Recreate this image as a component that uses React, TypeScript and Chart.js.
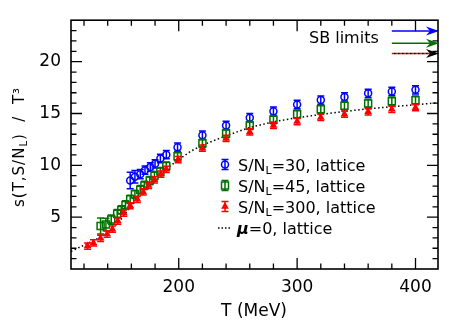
import React, { useEffect, useRef } from "react";
import { Chart, registerables } from "chart.js";
Chart.register(...registerables);

// ---------- data ----------
const blueT = [159, 163, 167.5, 171.5, 176, 180, 184.5, 189.5, 199, 220, 240, 260, 280, 300, 320, 340, 360, 380, 400];
const blueS = [8.53, 8.9, 9.15, 9.53, 9.84, 10.15, 10.66, 11.03, 11.75, 12.9, 13.85, 14.6, 15.22, 15.87, 16.3, 16.6, 16.95, 17.13, 17.28];
const blueErr = [0.8, 0.6, 0.45, 0.4, 0.4, 0.4, 0.4, 0.4, 0.4, 0.4, 0.4, 0.4, 0.4, 0.4, 0.4, 0.4, 0.4, 0.4, 0.4];

const greenT = [134, 138.5, 143, 148, 151.5, 155, 159, 163, 167.5, 171, 175.5, 179.5, 184.5, 189.5, 199, 220, 240, 260, 280, 300, 320, 340, 360, 380, 400];
const greenS = [4.15, 4.3, 4.77, 5.34, 5.7, 6.18, 6.72, 7.2, 7.65, 8.06, 8.53, 9.0, 9.4, 9.93, 10.87, 12.12, 13.06, 13.85, 14.4, 14.93, 15.4, 15.75, 15.97, 16.19, 16.28];
const greenErr = [0.78, 0.6, 0.45, 0.4, 0.4, 0.4, 0.4, 0.4, 0.4, 0.4, 0.4, 0.4, 0.4, 0.4, 0.4, 0.4, 0.4, 0.4, 0.4, 0.4, 0.4, 0.4, 0.4, 0.4, 0.4];

const redT = [123, 128, 134, 139.5, 144, 148.5, 153.5, 159, 165, 170, 174.5, 179.5, 185, 189.5, 199.5, 220, 240, 260, 280, 300, 320, 340, 360, 380, 400];
const redS = [2.21, 2.52, 2.96, 3.37, 3.84, 4.62, 5.4, 6.1, 6.72, 7.43, 8.06, 8.6, 9.16, 9.62, 10.56, 11.65, 12.59, 13.22, 13.85, 14.22, 14.62, 14.93, 15.16, 15.4, 15.56];
const redErr = [0.3, 0.3, 0.3, 0.3, 0.3, 0.3, 0.3, 0.3, 0.3, 0.3, 0.3, 0.3, 0.3, 0.3, 0.3, 0.3, 0.3, 0.3, 0.3, 0.3, 0.3, 0.3, 0.3, 0.3, 0.3];

const mu0T = [109, 120, 130, 140, 150, 160, 170, 180, 190, 200, 210, 220, 240, 260, 280, 300, 320, 340, 360, 380, 400, 419];
const mu0S = [1.7, 2.3, 2.85, 3.45, 4.6, 6.1, 7.5, 8.7, 9.7, 10.55, 11.35, 11.95, 12.85, 13.65, 14.2, 14.6, 14.9, 15.2, 15.45, 15.65, 15.85, 16.03];

const sbLimits = [22.97, 21.78, 20.79];
const sbArrowFromT = 380;

const xRange = [109, 419];
const yRange = [0, 24];
const xTickLabels = [200, 300, 400];
const yTickLabels = [5, 10, 15, 20];
const xMinorStep = 20;
const yMinorStep = 1;

const legendSeries = ["30", "45", "300"];
const legendSuffix = ", lattice";
const sbText = "SB limits";
const xTitle = "T (MeV)";

const BLUE = "#0000ff";
const GREEN = "#007000";
const RED = "#ff0000";
const FONT = "'DejaVu Sans', sans-serif";

function drawMarker(ctx: CanvasRenderingContext2D, kind: string, color: string, x: number, y: number, half: number) {
  ctx.save();
  ctx.strokeStyle = color;
  ctx.fillStyle = color;
  ctx.lineWidth = 1.5;
  ctx.beginPath();
  ctx.moveTo(x, y - half); ctx.lineTo(x, y + half);
  ctx.moveTo(x - 3.5, y - half); ctx.lineTo(x + 3.5, y - half);
  ctx.moveTo(x - 3.5, y + half); ctx.lineTo(x + 3.5, y + half);
  ctx.stroke();
  ctx.beginPath();
  if (kind === "circle") {
    ctx.arc(x, y, 3.5, 0, Math.PI * 2);
    ctx.stroke();
  } else if (kind === "rect") {
    ctx.rect(x - 3.5, y - 3.5, 7, 7);
    ctx.stroke();
  } else {
    ctx.moveTo(x, y - 4.5);
    ctx.lineTo(x + 3.9, y + 2.25);
    ctx.lineTo(x - 3.9, y + 2.25);
    ctx.closePath();
    ctx.fill();
  }
  ctx.restore();
}

function drawRich(ctx: CanvasRenderingContext2D, parts: { t: string; font: string; dy?: number }[], x: number, y: number) {
  let cx = x;
  for (const p of parts) {
    ctx.font = p.font;
    ctx.fillText(p.t, cx, y + (p.dy || 0));
    cx += ctx.measureText(p.t).width;
  }
  return cx;
}

const sciPlugin = {
  id: "sci",
  beforeDatasetDraw(chart: any, args: any) {
    const ds = chart.data.datasets[args.index];
    if (!ds.errors) return;
    const ctx = chart.ctx as CanvasRenderingContext2D;
    const xs = chart.scales.x, ys = chart.scales.y;
    ctx.save();
    ctx.strokeStyle = ds.borderColor;
    ctx.lineWidth = 1.5;
    ctx.beginPath();
    ds.data.forEach((p: any, i: number) => {
      const x = xs.getPixelForValue(p.x);
      const y1 = ys.getPixelForValue(p.y - ds.errors[i]);
      const y2 = ys.getPixelForValue(p.y + ds.errors[i]);
      ctx.moveTo(x, y1); ctx.lineTo(x, y2);
      ctx.moveTo(x - 3.5, y1); ctx.lineTo(x + 3.5, y1);
      ctx.moveTo(x - 3.5, y2); ctx.lineTo(x + 3.5, y2);
    });
    ctx.stroke();
    ctx.restore();
  },
  afterDraw(chart: any) {
    const ctx = chart.ctx as CanvasRenderingContext2D;
    const xs = chart.scales.x, ys = chart.scales.y;
    const a = chart.chartArea;
    ctx.save();
    // frame
    ctx.strokeStyle = "#000";
    ctx.lineWidth = 1.6;
    ctx.strokeRect(a.left, a.top, a.right - a.left, a.bottom - a.top);
    // ticks
    ctx.lineWidth = 1.3;
    ctx.beginPath();
    const x0 = Math.ceil(xRange[0] / xMinorStep) * xMinorStep;
    for (let v = x0; v < xRange[1]; v += xMinorStep) {
      const px = xs.getPixelForValue(v);
      const len = xTickLabels.includes(v) ? 11 : 5.5;
      ctx.moveTo(px, a.bottom); ctx.lineTo(px, a.bottom - len);
      ctx.moveTo(px, a.top); ctx.lineTo(px, a.top + len);
    }
    for (let v = yRange[0] + yMinorStep; v < yRange[1]; v += yMinorStep) {
      const py = ys.getPixelForValue(v);
      const len = v % 5 === 0 ? 11 : 5.5;
      ctx.moveTo(a.left, py); ctx.lineTo(a.left + len, py);
      ctx.moveTo(a.right, py); ctx.lineTo(a.right - len, py);
    }
    ctx.stroke();

    // SB arrows
    const sbColors = [BLUE, GREEN, RED];
    const xa = xs.getPixelForValue(sbArrowFromT);
    const xb = xs.getPixelForValue(xRange[1]);
    sbLimits.forEach((v, i) => {
      const py = ys.getPixelForValue(v);
      ctx.lineWidth = 1.5;
      if (i === 2) {
        ctx.setLineDash([2, 2]);
        ctx.strokeStyle = RED;
        ctx.beginPath(); ctx.moveTo(xa, py); ctx.lineTo(xb - 2, py); ctx.stroke();
        ctx.lineDashOffset = 2;
        ctx.strokeStyle = "#000";
        ctx.beginPath(); ctx.moveTo(xa, py); ctx.lineTo(xb - 2, py); ctx.stroke();
        ctx.setLineDash([]);
        ctx.lineDashOffset = 0;
      } else {
        ctx.strokeStyle = sbColors[i];
        ctx.beginPath(); ctx.moveTo(xa, py); ctx.lineTo(xb - 2, py); ctx.stroke();
      }
      ctx.fillStyle = i === 0 ? BLUE : i === 1 ? GREEN : "#000";
      ctx.beginPath();
      ctx.moveTo(xb + 1, py);
      ctx.lineTo(xb - 12, py - 4.5);
      ctx.lineTo(xb - 8, py);
      ctx.lineTo(xb - 12, py + 4.5);
      ctx.closePath();
      ctx.fill();
    });

    // text
    ctx.fillStyle = "#000";
    ctx.textBaseline = "alphabetic";
    ctx.textAlign = "left";
    ctx.font = `16px ${FONT}`;
    ctx.fillText(sbText, 309, 42.5);

    // legend
    const kinds = ["circle", "rect", "triangle"];
    const cols = [BLUE, GREEN, RED];
    const rowY = [164.5, 185.5, 206.5, 228];
    const mainF = `16px ${FONT}`;
    const subF = `11px ${FONT}`;
    for (let i = 0; i < 3; i++) {
      drawMarker(ctx, kinds[i], cols[i], 225, rowY[i], 5);
      ctx.fillStyle = "#000";
      drawRich(ctx, [
        { t: "S/N", font: mainF },
        { t: "L", font: subF, dy: 3 },
        { t: "=" + legendSeries[i] + legendSuffix, font: mainF },
      ], 238, rowY[i] + 6);
    }
    ctx.strokeStyle = "#000";
    ctx.lineWidth = 1.5;
    ctx.setLineDash([1.5, 2]);
    ctx.beginPath(); ctx.moveTo(218, rowY[3]); ctx.lineTo(231, rowY[3]); ctx.stroke();
    ctx.setLineDash([]);
    drawRich(ctx, [
      { t: "\u03bc", font: `bold italic 16px ${FONT}` },
      { t: "=0" + legendSuffix, font: mainF },
    ], 237, rowY[3] + 6);

    // x title
    ctx.font = `17px ${FONT}`;
    ctx.textAlign = "center";
    ctx.fillText(xTitle, 254, 316);

    // y title (rotated)
    ctx.save();
    ctx.translate(24, 207);
    ctx.rotate(-Math.PI / 2);
    ctx.textAlign = "left";
    const yf = `15px ${FONT}`;
    (ctx as any).letterSpacing = "1px";
    drawRich(ctx, [
      { t: "s(T,S/N", font: yf },
      { t: "L", font: `10px ${FONT}`, dy: 3 },
      { t: ")  /  T\u00b3", font: yf },
    ], 0, 0);
    ctx.restore();
    ctx.restore();
  },
};

export default function App() {
  const ref = useRef<HTMLCanvasElement>(null);
  useEffect(() => {
    const canvas = ref.current!;
    const pts = (xs: number[], ys: number[]) => xs.map((x, i) => ({ x, y: ys[i] }));
    const chart = new Chart(canvas, {
      type: "scatter",
      data: {
        datasets: [
          {
            label: "mu0",
            data: pts(mu0T, mu0S),
            showLine: true,
            borderColor: "#000",
            borderWidth: 1.5,
            borderDash: [1.5, 2.5],
            pointRadius: 0,
            fill: false,
            order: 4,
          } as any,
          {
            label: "30",
            data: pts(blueT, blueS),
            errors: blueErr,
            borderColor: BLUE,
            backgroundColor: "rgba(0,0,0,0)",
            pointStyle: "circle",
            pointRadius: 3.5,
            pointBorderWidth: 1.5,
            order: 3,
          } as any,
          {
            label: "45",
            data: pts(greenT, greenS),
            errors: greenErr,
            borderColor: GREEN,
            backgroundColor: "rgba(0,0,0,0)",
            pointStyle: "rect",
            pointRadius: 4.95,
            pointBorderWidth: 1.5,
            order: 2,
          } as any,
          {
            label: "300",
            data: pts(redT, redS),
            errors: redErr,
            borderColor: RED,
            backgroundColor: RED,
            pointStyle: "triangle",
            pointRadius: 4.5,
            pointBorderWidth: 0,
            order: 1,
          } as any,
        ],
      },
      options: {
        animation: false,
        responsive: false,
        devicePixelRatio: 1,
        layout: { padding: { top: 16, right: 25, left: 0, bottom: 0 } },
        plugins: { legend: { display: false }, tooltip: { enabled: false } },
        events: [],
        scales: {
          x: {
            type: "linear",
            min: xRange[0],
            max: xRange[1],
            grid: { display: false, drawTicks: false },
            border: { display: false },
            afterBuildTicks: (s: any) => { s.ticks = xTickLabels.map((v) => ({ value: v })); },
            afterFit: (s: any) => { s.height = 67; },
            ticks: { color: "#000", font: { family: FONT, size: 17 }, padding: 8, maxRotation: 0, autoSkip: false },
          },
          y: {
            type: "linear",
            min: yRange[0],
            max: yRange[1],
            grid: { display: false, drawTicks: false },
            border: { display: false },
            afterBuildTicks: (s: any) => { s.ticks = yTickLabels.map((v) => ({ value: v })); },
            afterFit: (s: any) => { s.width = 71; },
            ticks: { color: "#000", font: { family: FONT, size: 17 }, padding: 10, autoSkip: false },
          },
        },
      } as any,
      plugins: [sciPlugin],
    });
    return () => chart.destroy();
  }, []);
  return (
    <div style={{ position: "fixed", left: 0, top: 0, width: 463, height: 336, background: "#fff" }}>
      <canvas ref={ref} width={463} height={336} style={{ display: "block", width: 463, height: 336 }} />
    </div>
  );
}
